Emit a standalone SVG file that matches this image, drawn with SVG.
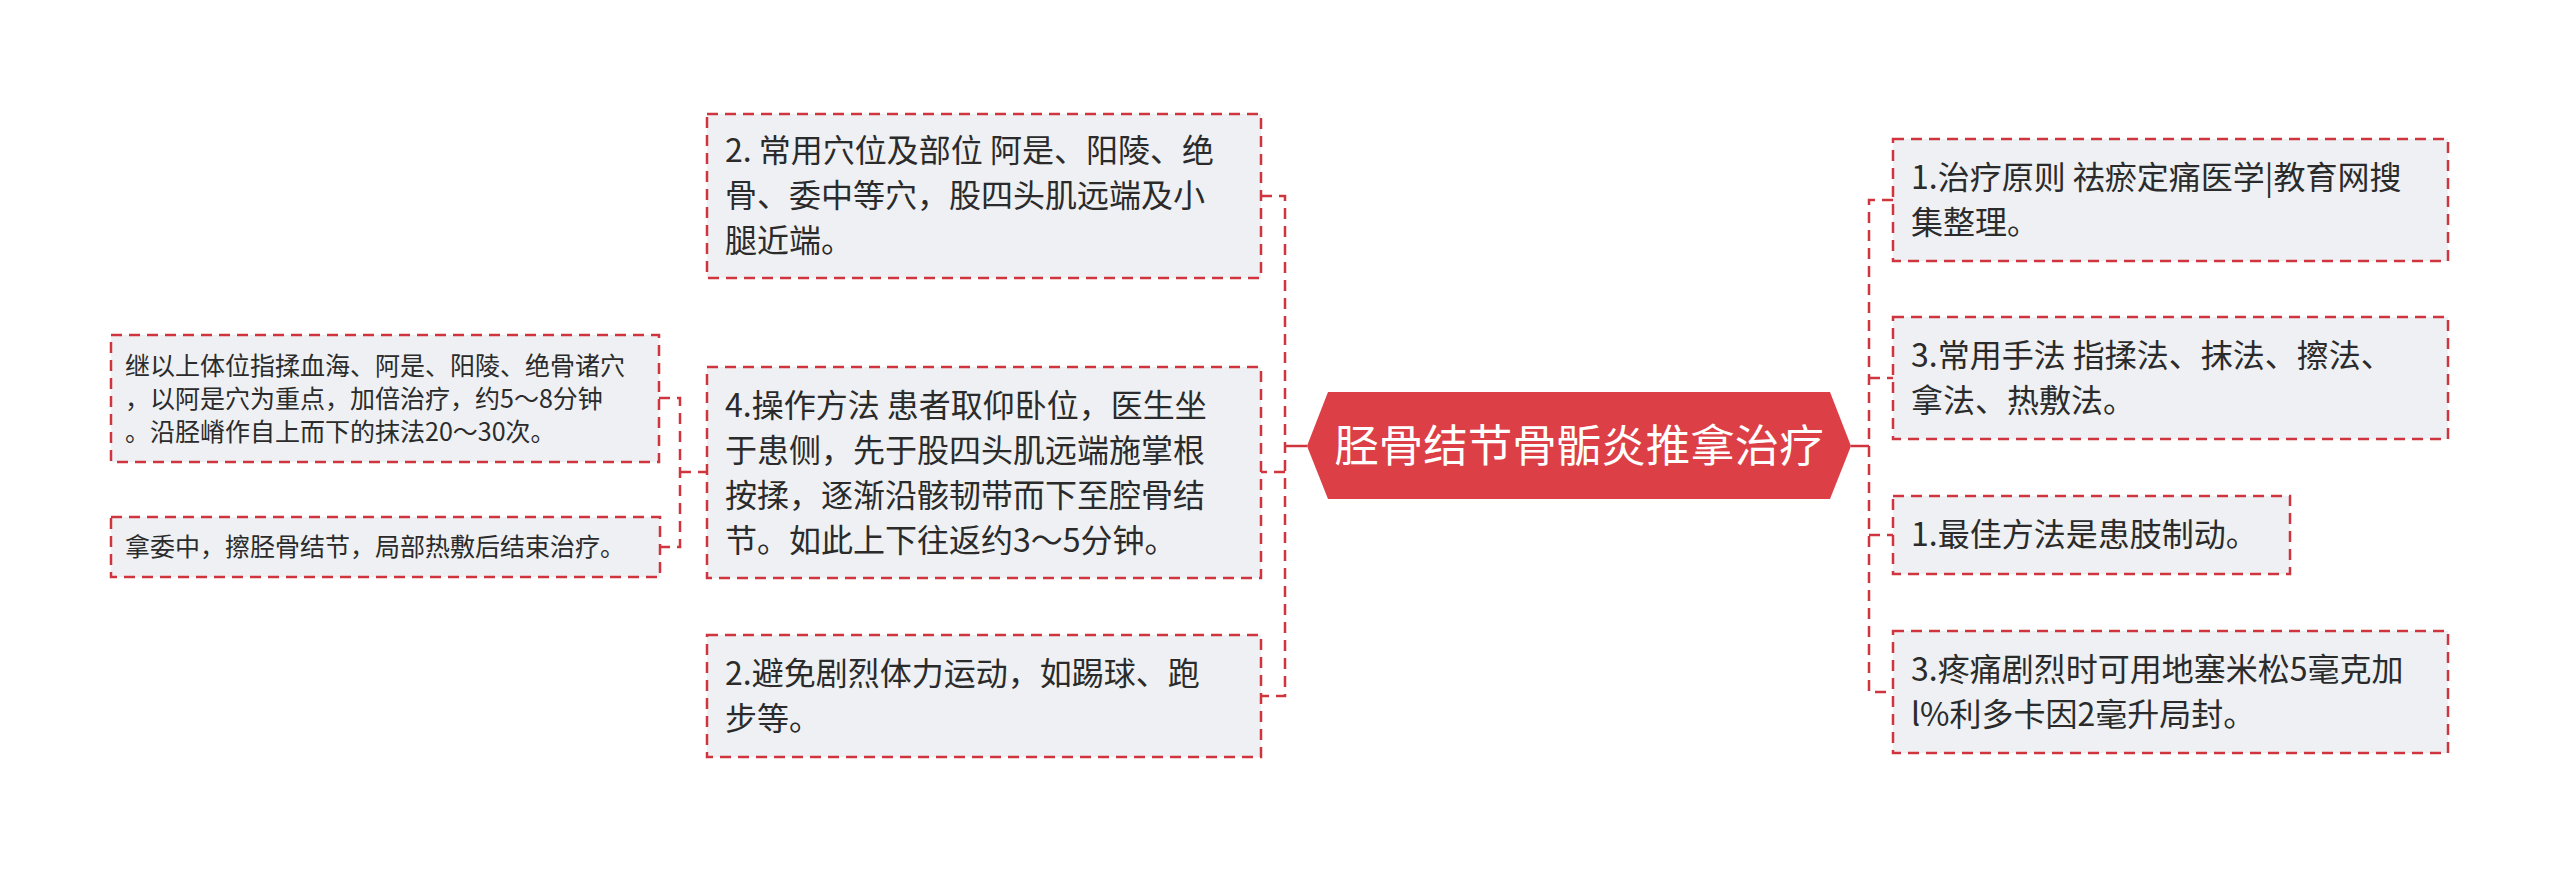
<svg xmlns="http://www.w3.org/2000/svg" width="2560" height="869" viewBox="0 0 2560 869">
<style>
.box{fill:#eef0f3;stroke:#d0343e;stroke-width:2.5;stroke-dasharray:11 7}
.t{font-family:"Noto Sans CJK SC","Noto Sans",sans-serif;font-size:32px;fill:#2b2b2b}
.s{font-family:"Noto Sans CJK SC","Noto Sans",sans-serif;font-size:25px;fill:#2b2b2b}
.c{font-family:"Noto Sans CJK SC","Noto Sans",sans-serif;font-size:44.5px;fill:#ffffff}
.dl{fill:none;stroke:#d0343e;stroke-width:2.5;stroke-dasharray:11 7}
.sl{fill:none;stroke:#d0343e;stroke-width:2.5}
</style>
<rect width="2560" height="869" fill="#ffffff"/>
<g id="connectors">
<path class="dl" d="M1261 196H1285V696H1261M1285 472H1261"/>
<path class="sl" d="M1285 446H1307"/>
<path class="dl" d="M1893 200H1869V692H1893M1869 378H1893M1869 535H1893"/>
<path class="sl" d="M1851 446H1869"/>
<path class="dl" d="M659 398H680V547H660M680 472H707"/>
</g>
<g id="center">
<polygon points="1307,446 1328,392 1830,392 1851,446 1830,499 1328,499" fill="#dd3f47"/>
<text class="c" x="1579" y="462" text-anchor="middle">胫骨结节骨骺炎推拿治疗</text>
</g>
<g id="nodeA">
<rect class="box" x="707" y="114" width="554" height="164"/>
<text class="t" x="725" y="162">2. 常用穴位及部位 阿是、阳陵、绝</text>
<text class="t" x="725" y="207">骨、委中等穴，股四头肌远端及小</text>
<text class="t" x="725" y="252">腿近端。</text>
</g>
<g id="nodeB">
<rect class="box" x="707" y="367" width="554" height="211"/>
<text class="t" x="725" y="417">4.操作方法 患者取仰卧位，医生坐</text>
<text class="t" x="725" y="462">于患侧，先于股四头肌远端施掌根</text>
<text class="t" x="725" y="507">按揉，逐渐沿骸韧带而下至腔骨结</text>
<text class="t" x="725" y="552">节。如此上下往返约3～5分钟。</text>
</g>
<g id="nodeC">
<rect class="box" x="707" y="635" width="554" height="122"/>
<text class="t" x="725" y="685">2.避免剧烈体力运动，如踢球、跑</text>
<text class="t" x="725" y="730">步等。</text>
</g>
<g id="nodeL1">
<rect class="box" x="111" y="335" width="548" height="127"/>
<text class="s" x="125" y="375">继以上体位指揉血海、阿是、阳陵、绝骨诸穴</text>
<text class="s" x="125" y="408">，以阿是穴为重点，加倍治疗，约5～8分钟</text>
<text class="s" x="125" y="441">。沿胫嵴作自上而下的抹法20～30次。</text>
</g>
<g id="nodeL2">
<rect class="box" x="111" y="517" width="549" height="60"/>
<text class="s" x="125" y="556">拿委中，擦胫骨结节，局部热敷后结束治疗。</text>
</g>
<g id="nodeR1">
<rect class="box" x="1893" y="139" width="555" height="122"/>
<text class="t" x="1911" y="189">1.治疗原则 祛瘀定痛医学|教育网搜</text>
<text class="t" x="1911" y="234">集整理。</text>
</g>
<g id="nodeR2">
<rect class="box" x="1893" y="317" width="555" height="122"/>
<text class="t" x="1911" y="367">3.常用手法 指揉法、抹法、擦法、</text>
<text class="t" x="1911" y="412">拿法、热敷法。</text>
</g>
<g id="nodeR3">
<rect class="box" x="1893" y="496" width="397" height="78"/>
<text class="t" x="1911" y="546">1.最佳方法是患肢制动。</text>
</g>
<g id="nodeR4">
<rect class="box" x="1893" y="631" width="555" height="122"/>
<text class="t" x="1911" y="681">3.疼痛剧烈时可用地塞米松5毫克加</text>
<text class="t" x="1911" y="726">l%利多卡因2毫升局封。</text>
</g>
</svg>
